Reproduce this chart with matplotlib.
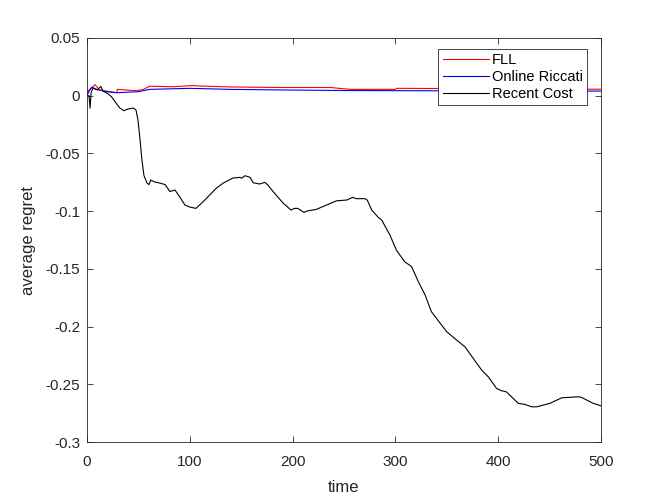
import numpy as np
import matplotlib.pyplot as plt
from matplotlib.ticker import FuncFormatter

plt.rcParams['font.family'] = ['Liberation Sans', 'DejaVu Sans']
plt.rcParams['axes.unicode_minus'] = False

# FLL (red)
fll_t = [0, 2, 8, 12, 22, 29, 29.5, 48, 55, 61, 84, 103, 110, 139, 188, 237,
         256, 300, 301, 400, 500]
fll_v = [0, 0.005, 0.0095, 0.005, 0.0035, 0.0026, 0.0055, 0.0043, 0.0055, 0.0082,
         0.0078, 0.0088, 0.0084, 0.0076, 0.0071, 0.0071, 0.0055, 0.0055, 0.0064,
         0.006, 0.0056]

# Online Riccati (blue)
ric_t = [0, 2, 4.5, 9.4, 19, 29, 50, 61, 100, 139, 188, 250, 330, 500]
ric_v = [0, 0.004, 0.0073, 0.0055, 0.0035, 0.0026, 0.0035, 0.0055, 0.0064,
         0.0055, 0.005, 0.0045, 0.0043, 0.004]

# Recent Cost (black)
rc_t = [0, 2, 3, 4, 6, 10, 13.5, 15.5, 20, 24, 28, 32, 36, 40, 45, 47.7, 49.6,
        51.6, 53.5, 55.4, 58.4, 60.3, 62, 66, 71, 76, 80.7, 85.6, 90.5, 95.3,
        100.2, 106, 113, 126, 132.5, 142, 149, 150.5, 153.7, 158.6, 161.8, 168,
        173, 176, 181, 191, 198.4, 202, 205, 211, 215, 223, 233, 243, 252.6,
        258.5, 262, 270.4, 272.7, 277, 283.4, 286.7, 294.7, 301, 309, 315.8,
        322.3, 329, 335, 345, 350, 359.7, 367.7, 375.8, 384, 390.4, 398.5,
        403.4, 408, 419.6, 426, 432.6, 437.5, 450.4, 461.8, 478, 481, 492.5, 500]
rc_v = [0, 0, -0.0107, 0.003, 0.0067, 0.005, 0.008, 0.004, 0.002, -0.001, -0.006,
        -0.0107, -0.013, -0.0115, -0.0107, -0.0124, -0.021, -0.038, -0.056,
        -0.069, -0.0757, -0.077, -0.073, -0.0748, -0.0757, -0.077, -0.083,
        -0.0817, -0.088, -0.0947, -0.0965, -0.0976, -0.0918, -0.080, -0.0757,
        -0.0713, -0.0707, -0.0715, -0.0693, -0.0707, -0.0754, -0.0765, -0.075,
        -0.0774, -0.083, -0.0932, -0.099, -0.0976, -0.0976, -0.101, -0.0997,
        -0.0985, -0.0947, -0.091, -0.0904, -0.088, -0.0892, -0.0892, -0.0904,
        -0.099, -0.1054, -0.1077, -0.1207, -0.1337, -0.1438, -0.148, -0.161,
        -0.1727, -0.187, -0.1987, -0.2045, -0.2117, -0.2175, -0.2276, -0.2377,
        -0.2435, -0.2536, -0.2556, -0.2565, -0.2665, -0.2674, -0.2695, -0.2695,
        -0.2665, -0.2617, -0.2608, -0.2613, -0.2665, -0.2686]

x_ticks = [0, 100, 200, 300, 400, 500]
y_ticks = [-0.3, -0.25, -0.2, -0.15, -0.1, -0.05, 0, 0.05]

fig = plt.figure(figsize=(6.64, 4.98), dpi=100)
ax = fig.add_axes([0.131, 0.1124, 0.774, 0.8113])

ax.plot(fll_t, fll_v, color='r', lw=0.8, label='FLL')
ax.plot(ric_t, ric_v, color='b', lw=0.8, label='Online Riccati')
ax.plot(rc_t, rc_v, color='k', lw=0.8, label='Recent Cost')

ax.set_xlim(0, 500)
ax.set_ylim(-0.3, 0.05)
ax.set_xticks(x_ticks)
ax.set_yticks(y_ticks)
ax.yaxis.set_major_formatter(FuncFormatter(lambda v, p: '%g' % round(v, 4)))

gray = '#262626'
for s in ax.spines.values():
    s.set_color(gray)
    s.set_linewidth(0.6)
ax.tick_params(direction='in', length=4, width=0.6, colors=gray,
               top=True, right=True, labelsize=11)
ax.tick_params(axis='x', pad=9)
ax.tick_params(axis='y', pad=5)

ax.set_xlabel('time', fontsize=12, color=gray, labelpad=8)
ax.set_ylabel('average regret', fontsize=12, color=gray, labelpad=7)

leg = ax.legend(loc='upper right', bbox_to_anchor=(0.973, 0.973), borderaxespad=0,
                fontsize=10.5, fancybox=False, framealpha=1, edgecolor=gray,
                handlelength=3.2, handletextpad=0.15, labelspacing=0.2,
                borderpad=0.3)
leg.get_frame().set_linewidth(0.6)

fig.savefig('out.png', dpi=100)
